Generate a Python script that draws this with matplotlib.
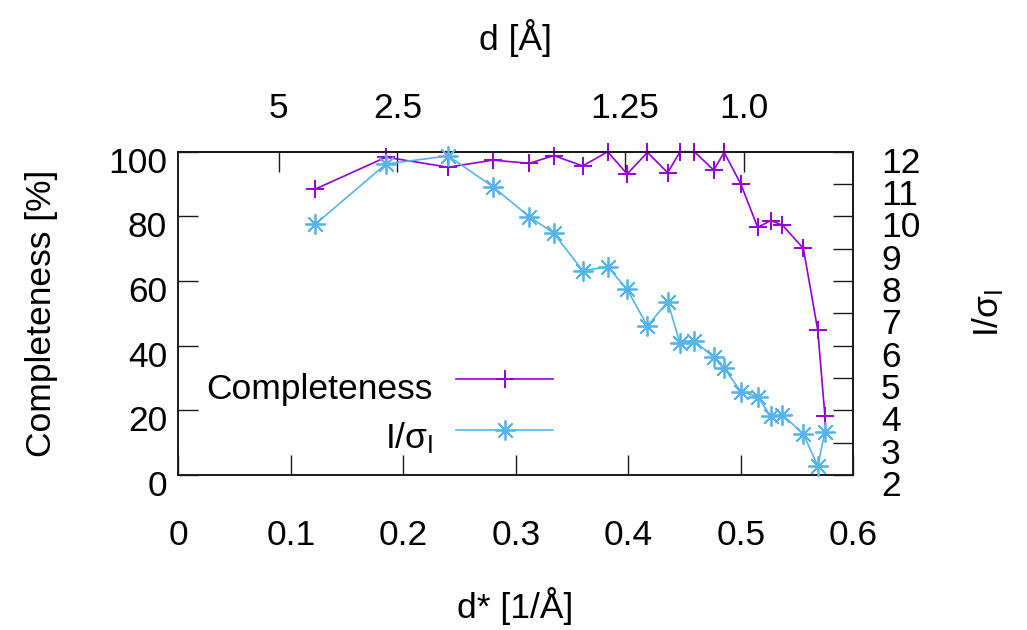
import matplotlib
matplotlib.use('Agg')
import matplotlib.pyplot as plt
import matplotlib.transforms as mtransforms

# ---- data ----
d_star = [0.1215, 0.1846, 0.2400, 0.2795, 0.3120, 0.3337, 0.3595, 0.3817,
          0.3990, 0.4170, 0.4350, 0.4460, 0.4587, 0.4760, 0.4852, 0.5000,
          0.5150, 0.5266, 0.5370, 0.5556, 0.5684, 0.5748]
completeness = [88.4, 98.3, 95.2, 97.4, 96.4, 98.8, 95.6, 100.0,
                93.1, 99.8, 93.5, 100.0, 100.0, 94.3, 99.8, 90.0,
                76.6, 78.7, 77.3, 70.1, 44.8, 18.2]
i_sigma = [9.75, 11.62, 11.87, 10.92, 9.99, 9.48, 8.32, 8.44,
           7.74, 6.61, 7.36, 6.07, 6.15, 5.64, 5.31, 4.58,
           4.42, 3.82, 3.86, 3.27, 2.28, 3.34]

x_ticks = [0, 0.1, 0.2, 0.3, 0.4, 0.5, 0.6]
x_tick_labels = ['0', '0.1', '0.2', '0.3', '0.4', '0.5', '0.6']
comp_ticks = [0, 20, 40, 60, 80, 100]
isig_ticks = [2, 3, 4, 5, 6, 7, 8, 9, 10, 11, 12]
top_tick_pos = [0.0894, 0.1947, 0.3970, 0.5026]
top_tick_labels = ['5', '2.5', '1.25', '1.0']

series_names = ['Completeness', r'I/σ$_\mathrm{I}$']
colors = ['#9400D3', '#56B4E9']

plt.rcParams['font.family'] = ['Liberation Sans', 'DejaVu Sans']
plt.rcParams['mathtext.fontset'] = 'custom'
plt.rcParams['mathtext.rm'] = 'Liberation Sans'
plt.rcParams['mathtext.it'] = 'Liberation Sans:italic'

W, H = 1027, 630
fig = plt.figure(figsize=(W / 100, H / 100), dpi=100)
L, R, T, B = 178.3, 853.3, 151.7, 475.0
ax = fig.add_axes([L / W, 1 - B / H, (R - L) / W, (B - T) / H])
ax2 = ax.twinx()

FS = 25.5
TL = 14.4
edge = '#1a1a1a'

ax.plot(d_star, completeness, color=colors[0], marker='+', ms=12.5, mew=1.4,
        lw=1.2, clip_on=False, zorder=3)
ax2.plot(d_star, i_sigma, color=colors[1], marker=(8, 2, 0), ms=14.5, mew=1.3,
         lw=1.2, clip_on=False, zorder=3)

ax.set_xlim(0, 0.6)
ax.set_ylim(0, 100)
ax2.set_ylim(2, 12)

ax.set_xticks(x_ticks, x_tick_labels)
ax.set_yticks(comp_ticks)
ax2.set_yticks(isig_ticks)

for a in (ax, ax2):
    for s in a.spines.values():
        s.set_linewidth(1.2)
        s.set_color(edge)

ax.tick_params(axis='x', direction='in', length=TL, width=1.0, color=edge,
               top=False, labelsize=FS, pad=32)
ax.tick_params(axis='y', direction='in', length=TL, width=1.0, color=edge,
               right=False, labelsize=FS, pad=8)
ax2.tick_params(axis='y', direction='in', length=TL, width=1.0, color=edge,
                labelsize=FS, pad=20)

sec = ax.secondary_xaxis('top')
sec.set_xticks(top_tick_pos, top_tick_labels)
sec.tick_params(direction='in', length=TL, width=1.0, color=edge,
                labelsize=FS, pad=19)
sec.spines['top'].set_linewidth(1.2)
sec.spines['top'].set_color(edge)

shift = mtransforms.ScaledTranslation(0, -8 / 100, fig.dpi_scale_trans)
for lbl in ax.get_yticklabels() + ax2.get_yticklabels():
    lbl.set_transform(lbl.get_transform() + shift)

# axis titles
fig.text(515.5 / W, 1 - 38 / H, 'd [Å]', ha='center', va='center', fontsize=FS)
fig.text(515.5 / W, 1 - 606 / H, 'd* [1/Å]', ha='center', va='center', fontsize=FS)
fig.text(42 / W, 1 - 313 / H, 'Completeness [%]', ha='center', va='center',
         rotation=90, fontsize=FS)
fig.text(988 / W, 1 - 313 / H, series_names[1], ha='center', va='center',
         rotation=90, fontsize=FS)

# legend (gnuplot style: right-aligned text, sample to the right)
ax.plot([0.4114, 0.4833, 0.555], [0.297, 0.297, 0.297], transform=ax.transAxes,
        color=colors[0], marker='+', ms=12.5, mew=1.4, lw=1.2, markevery=[1],
        clip_on=False)
ax.plot([0.4114, 0.4833, 0.555], [0.139, 0.139, 0.139], transform=ax.transAxes,
        color=colors[1], marker=(8, 2, 0), ms=14.5, mew=1.3, lw=1.2, markevery=[1],
        clip_on=False)
ax.text(0.3773, 0.235, series_names[0], transform=ax.transAxes, ha='right',
        va='baseline', fontsize=FS)
ax.text(0.3773, 0.0835, series_names[1], transform=ax.transAxes, ha='right',
        va='baseline', fontsize=FS)

fig.savefig('out.png', dpi=100)
